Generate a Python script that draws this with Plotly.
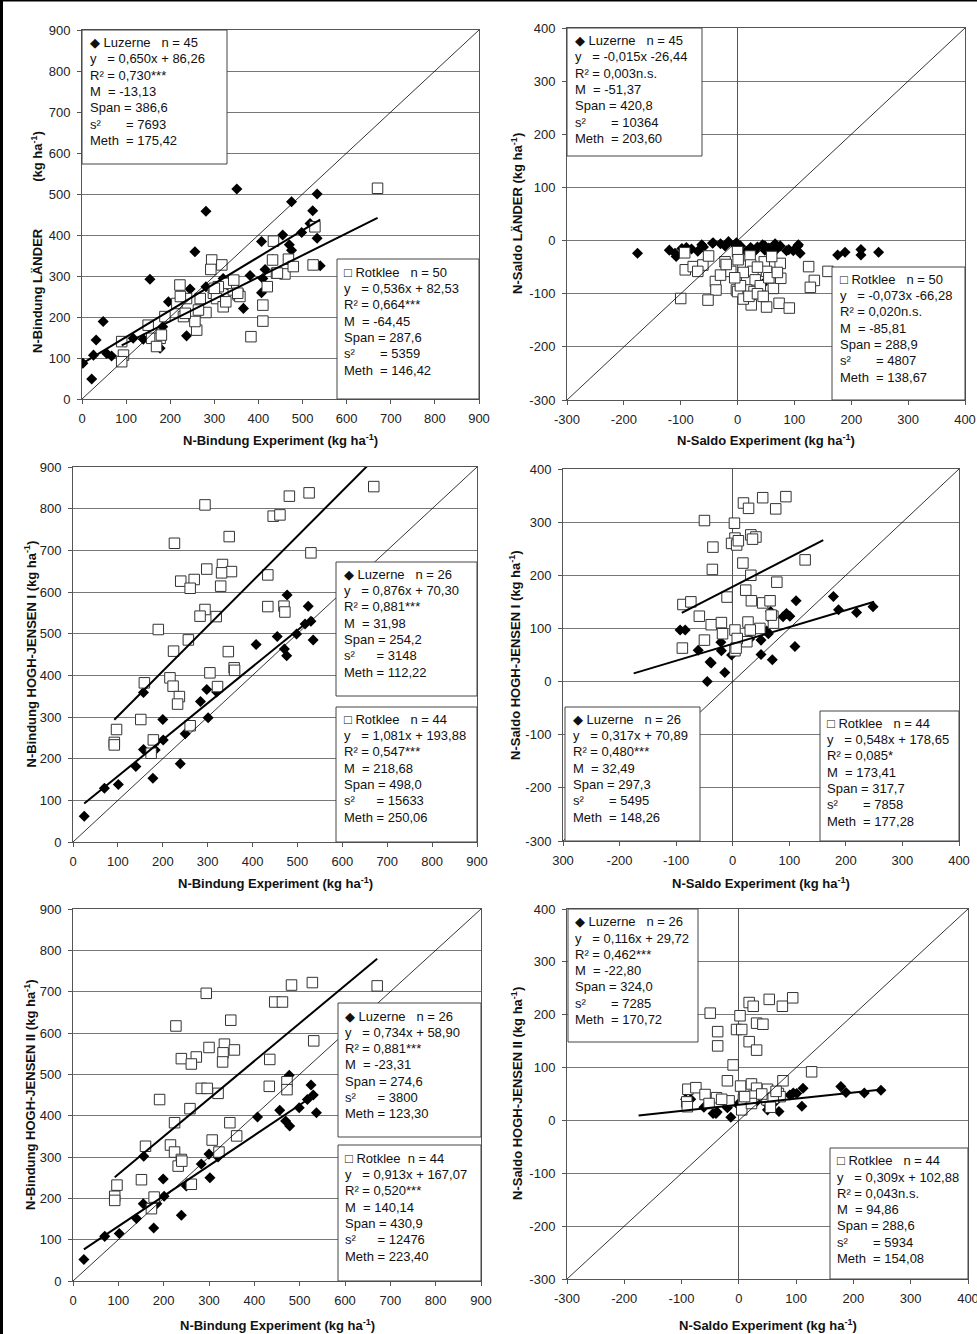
import plotly.graph_objects as go

FONT = "Arial, 'Liberation Sans', Helvetica, sans-serif"
W, H = 977, 1334

# ---------------------------------------------------------------- data
# Panel 1: N-Bindung LÄNDER vs. N-Bindung Experiment
laender_bind_luz_x = [2, 22, 26, 32, 48, 56, 67, 116, 139, 154, 177, 183, 196, 237, 245, 256, 281, 281,
                      320, 351, 366, 381, 407, 407, 415, 410, 455, 475, 470, 475, 498, 517, 523, 533, 533,
                      540, 94, 180, 213, 297, 320, 343, 432, 468, 268]
laender_bind_luz_y = [87, 49, 107, 144, 189, 111, 105, 148, 146, 292, 124, 176, 237, 154, 268, 359, 458, 274,
                      294, 512, 221, 301, 384, 259, 316, 294, 400, 481, 376, 363, 406, 428, 459, 500, 392,
                      325, 105, 150, 235, 260, 240, 268, 340, 341, 245]
laender_bind_rot_x = [94, 90, 90, 150, 158, 177, 169, 188, 215, 222, 230, 237, 260, 256, 268, 281, 294, 292,
                      317, 298, 305, 320, 326, 339, 343, 354, 358, 383, 410, 410, 420, 434, 432, 441, 460,
                      468, 479, 524, 528, 670, 180, 234, 264, 327, 309, 344, 353, 223, 443, 300]
laender_bind_rot_y = [107, 91, 140, 180, 148, 148, 128, 201, 233, 278, 201, 245, 168, 189, 245, 211, 339, 316,
                      327, 258, 245, 225, 237, 280, 266, 254, 250, 152, 229, 190, 274, 385, 339, 307, 305,
                      341, 323, 327, 420, 514, 156, 209, 217, 282, 274, 290, 258, 250, 307, 270]

# Panel 2: N-Saldo LÄNDER vs. N-Saldo Experiment
laender_saldo_luz_x = [-176, -120, -110, -98, -90, -81, -63, -44, -22, -16, -5, 23, 44, 48, 66, 69, 86, 98,
                       107, 110, 44, 176, 189, 217, 217, 248, -108, -89, -43, -2, 25, 48, 66, 90, 106,
                       -60, -30, 5, 15, 35, 55, 75, -70, 30, 60]
laender_saldo_luz_y = [-24, -18, -24, -15, -13, -16, -8, -5, -10, -2, -8, -13, -8, -18, -6, -16, -19, -19,
                       -8, -24, -82, -27, -22, -17, -27, -22, -30, -16, -4, -4, -16, -10, -16, -17, -10,
                       -12, -6, -10, -20, -12, -14, -10, -20, -20, -22]
laender_saldo_rot_x = [-93, -92, -78, -61, -51, -39, -38, -100, -52, -22, -12, 0, 1, -2, 22, 23, 16, 27, 31,
                       16, 29, 24, 47, 51, 63, 75, 76, 51, 73, 91, 125, 135, 128, 159, 0, 10,
                       -70, -30, -20, 5, 10, 35, 40, 55, 60, 70, 20, 35, -5, 45]
laender_saldo_rot_y = [-23, -55, -49, -46, -29, -77, -93, -109, -112, -40, -58, -21, -36, -93, -29, -46, -74,
                       -58, -74, -93, -96, -121, -40, -58, -90, -43, -71, -125, -118, -127, -49, -75, -88,
                       -58, -96, -110, -58, -65, -45, -85, -60, -50, -85, -70, -30, -60, -105, -100, -70,
                       -105]

# Panel 3: N-Bindung HOGH-JENSEN I vs. N-Bindung Experiment
hj1_bind_luz_x = [25, 70, 101, 140, 157, 157, 178, 183, 200, 201, 239, 284, 298, 301, 408, 455, 477, 471,
                  476, 498, 517, 524, 535, 320, 250, 530]
hj1_bind_luz_y = [62, 129, 138, 181, 359, 222, 153, 221, 294, 245, 188, 337, 366, 298, 474, 493, 593, 463,
                  447, 499, 523, 566, 485, 360, 260, 530]
hj1_bind_rot_x = [294, 482, 526, 446, 461, 348, 226, 530, 298, 333, 353, 331, 240, 270, 261, 329, 434, 294,
                  283, 319, 434, 470, 472, 190, 257, 224, 346, 359, 305, 159, 216, 223, 322, 237, 233, 151,
                  261, 97, 92, 92, 179, 174, 670, 360]
hj1_bind_rot_y = [809, 830, 838, 782, 785, 733, 717, 694, 655, 666, 649, 646, 626, 630, 609, 614, 641, 558,
                  542, 541, 565, 566, 552, 510, 485, 458, 457, 418, 406, 382, 394, 374, 373, 349, 331, 294,
                  279, 270, 239, 233, 245, 213, 853, 412]

# Panel 4: N-Saldo HOGH-JENSEN I vs. N-Saldo Experiment
hj1_saldo_luz_x = [-93, -84, -61, -40, -45, -20, -14, -2, -21, 50, 50, 70, 63, 67, 89, 101, 110, 112, 178,
                   187, 219, 248, -38, 30, 60, 95]
hj1_saldo_luz_y = [97, 97, 59, 37, 0, 58, 17, 50, 74, 78, 51, 41, 90, 132, 122, 123, 66, 152, 160, 135,
                   130, 141, 35, 80, 95, 128]
hj1_saldo_rot_x = [19, 28, 53, 76, 94, -50, 3, 4, -2, 7, 32, 41, -35, -36, 18, 32, 78, 128, -10, 23, 33, 53,
                   66, -88, -74, -59, -38, -20, -18, 4, 27, 48, 71, 72, -50, -89, 4, 25, 8, 31, 68, 6, 10, 35]
hj1_saldo_rot_y = [336, 326, 346, 325, 348, 303, 298, 270, 260, 257, 276, 272, 253, 211, 223, 200, 187, 229,
                   159, 172, 152, 148, 152, 145, 150, 123, 107, 111, 90, 97, 112, 100, 123, 110, 78, 63, 58,
                   75, 81, 97, 125, 63, 265, 268]

# Panel 5: N-Bindung HOGH-JENSEN II vs. N-Bindung Experiment
hj2_bind_luz_x = [24, 70, 102, 140, 156, 155, 178, 185, 199, 201, 239, 283, 300, 302, 407, 456, 477, 469,
                  478, 499, 517, 525, 537, 320, 250, 530]
hj2_bind_luz_y = [52, 108, 115, 151, 302, 187, 128, 187, 247, 205, 159, 283, 307, 250, 397, 413, 498, 387,
                  375, 419, 439, 474, 407, 300, 230, 450]
hj2_bind_rot_x = [294, 227, 482, 528, 671, 445, 462, 348, 531, 239, 272, 300, 261, 334, 331, 330, 356, 434,
                  283, 296, 320, 433, 472, 472, 191, 224, 258, 346, 361, 307, 322, 160, 215, 224, 239, 232,
                  151, 261, 97, 92, 92, 179, 173, 240]
hj2_bind_rot_y = [696, 617, 716, 722, 714, 675, 675, 631, 581, 538, 542, 565, 525, 573, 552, 530, 559, 536,
                  466, 466, 454, 471, 482, 463, 439, 383, 417, 383, 351, 341, 312, 326, 329, 312, 294, 278,
                  245, 234, 232, 205, 195, 203, 175, 290]

# Panel 6: N-Saldo HOGH-JENSEN II vs. N-Saldo Experiment
hj2_saldo_luz_x = [-93, -84, -61, -40, -45, -20, -14, -2, -21, 50, 50, 70, 63, 67, 89, 101, 110, 112, 178,
                   187, 219, 248, -38, 30, 60, 95]
hj2_saldo_luz_y = [40, 40, 25, 13, 13, 24, 6, 30, 26, 20, 30, 17, 35, 45, 48, 51, 27, 61, 64, 53, 52, 57,
                   16, 35, 40, 52]
hj2_saldo_rot_x = [18, 25, 53, 76, 94, -50, 2, -4, 5, 31, 42, -37, -37, 18, 31, -10, 127, 77, -20, -89, -75,
                   -59, -39, -17, 3, 22, 31, 50, 69, 72, 8, 25, -91, -90, -52, 5, 22, 49, 60, 10, 40, -30,
                   55, 65]
hj2_saldo_rot_y = [223, 216, 229, 216, 232, 203, 198, 172, 172, 184, 182, 168, 141, 149, 133, 105, 92, 75, 75,
                   59, 62, 49, 43, 37, 65, 69, 61, 59, 51, 45, 39, 46, 35, 26, 32, 20, 32, 39, 42, 45, 50,
                   40, 25, 55]

# regression coefficients (slope, intercept); panels with n.s. fits have no line
laender_bind_fit_luz = [0.650, 86.26]
laender_bind_fit_rot = [0.536, 82.53]
hj1_bind_fit_luz = [0.876, 70.30]
hj1_bind_fit_rot = [1.081, 193.88]
hj1_saldo_fit_luz = [0.317, 70.89]
hj1_saldo_fit_rot = [0.548, 178.65]
hj2_bind_fit_luz = [0.734, 58.90]
hj2_bind_fit_rot = [0.913, 167.07]
hj2_saldo_fit_luz = [0.116, 29.72]
saldo_fit_luz_xspan = [-175, 250]
saldo_fit_rot_xspan = [-90, 160]

# statistics texts
laender_bind_luz_txt = ["◆ Luzerne   n = 45", "y   = 0,650x + 86,26", "R² = 0,730***", "M  = -13,13",
                        "Span = 386,6", "s²       = 7693", "Meth  = 175,42"]
laender_bind_rot_txt = ["□ Rotklee   n = 50", "y   = 0,536x + 82,53", "R² = 0,664***", "M  = -64,45",
                        "Span = 287,6", "s²       = 5359", "Meth  = 146,42"]
laender_saldo_luz_txt = ["◆ Luzerne   n = 45", "y   = -0,015x -26,44", "R² = 0,003n.s.", "M  = -51,37",
                         "Span = 420,8", "s²       = 10364", "Meth  = 203,60"]
laender_saldo_rot_txt = ["□ Rotklee   n = 50", "y   = -0,073x -66,28", "R² = 0,020n.s.", "M  = -85,81",
                         "Span = 288,9", "s²       = 4807", "Meth  = 138,67"]
hj1_bind_luz_txt = ["◆ Luzerne   n = 26", "y   = 0,876x + 70,30", "R² = 0,881***", "M  = 31,98",
                    "Span = 254,2", "s²      = 3148", "Meth = 112,22"]
hj1_bind_rot_txt = ["□ Rotklee   n = 44", "y   = 1,081x + 193,88", "R² = 0,547***", "M  = 218,68",
                    "Span = 498,0", "s²      = 15633", "Meth = 250,06"]
hj1_saldo_luz_txt = ["◆ Luzerne   n = 26", "y   = 0,317x + 70,89", "R² = 0,480***", "M  = 32,49",
                     "Span = 297,3", "s²       = 5495", "Meth  = 148,26"]
hj1_saldo_rot_txt = ["□ Rotklee   n = 44", "y   = 0,548x + 178,65", "R² = 0,085*", "M  = 173,41",
                     "Span = 317,7", "s²       = 7858", "Meth  = 177,28"]
hj2_bind_luz_txt = ["◆ Luzerne   n = 26", "y   = 0,734x + 58,90", "R² = 0,881***", "M  = -23,31",
                    "Span = 274,6", "s²      = 3800", "Meth = 123,30"]
hj2_bind_rot_txt = ["□ Rotklee  n = 44", "y   = 0,913x + 167,07", "R² = 0,520***", "M  = 140,14",
                    "Span = 430,9", "s²      = 12476", "Meth = 223,40"]
hj2_saldo_luz_txt = ["◆ Luzerne   n = 26", "y   = 0,116x + 29,72", "R² = 0,462***", "M  = -22,80",
                     "Span = 324,0", "s²       = 7285", "Meth  = 170,72"]
hj2_saldo_rot_txt = ["□ Rotklee   n = 44", "y   = 0,309x + 102,88", "R² = 0,043n.s.", "M  = 94,86",
                     "Span = 288,6", "s²       = 5934", "Meth  = 154,08"]

bind_ticks = [0, 100, 200, 300, 400, 500, 600, 700, 800, 900]
bind_ticktext = ["0", "100", "200", "300", "400", "500", "600", "700", "800", "900"]
saldo_ticks = [-300, -200, -100, 0, 100, 200, 300, 400]
saldo_ticktext = ["-300", "-200", "-100", "0", "100", "200", "300", "400"]
saldo_ticktext_hj1 = ["300", "-200", "-100", "0", "100", "200", "300", "400"]

UNIT = " (kg ha<sup>-1</sup>)"
xtitle_bind = "N-Bindung Experiment" + UNIT
xtitle_saldo = "N-Saldo Experiment" + UNIT
ytitle_laender_bind = "N-Bindung LÄNDER" + "\u00a0" * 12 + UNIT

# ---------------------------------------------------------------- layout config (pixels)
panels = [
    dict(box=(82, 30, 479, 399), ticks=bind_ticks, tt=bind_ticktext, xtt=bind_ticktext, zero=False,
         luz=(laender_bind_luz_x, laender_bind_luz_y), rot=(laender_bind_rot_x, laender_bind_rot_y),
         fit_luz=laender_bind_fit_luz, fit_rot=laender_bind_fit_rot, span_luz=None, span_rot=None,
         ytitle=ytitle_laender_bind, xtitle=xtitle_bind, yt_x=37, yt_y=242, xt_y=440,
         tl=laender_bind_luz_txt, tr=laender_bind_rot_txt,
         bl=(82, 30, 227, 164, 88, 42.7), br=(337, 259, 479, 399, 341.7, 272.3)),
    dict(box=(567, 28, 965, 400), ticks=saldo_ticks, tt=saldo_ticktext, xtt=saldo_ticktext, zero=True,
         luz=(laender_saldo_luz_x, laender_saldo_luz_y), rot=(laender_saldo_rot_x, laender_saldo_rot_y),
         fit_luz=None, fit_rot=None, span_luz=None, span_rot=None,
         ytitle="N-Saldo LÄNDER" + UNIT, xtitle=xtitle_saldo, yt_x=517, yt_y=None, xt_y=440,
         tl=laender_saldo_luz_txt, tr=laender_saldo_rot_txt,
         bl=(567, 28, 702, 156, 572.7, 40.7), br=(832, 267, 965, 400, 837.7, 279.3)),
    dict(box=(73, 467, 477, 842), ticks=bind_ticks, tt=bind_ticktext, xtt=bind_ticktext, zero=False,
         luz=(hj1_bind_luz_x, hj1_bind_luz_y), rot=(hj1_bind_rot_x, hj1_bind_rot_y),
         fit_luz=hj1_bind_fit_luz, fit_rot=hj1_bind_fit_rot, span_luz=None, span_rot=None,
         ytitle="N-Bindung HOGH-JENSEN I" + UNIT, xtitle=xtitle_bind, yt_x=31, yt_y=None, xt_y=883,
         tl=hj1_bind_luz_txt, tr=hj1_bind_rot_txt,
         bl=(336, 562, 477, 696, 341.7, 574.3), br=(336, 707, 477, 842, 341.7, 719.3)),
    dict(box=(563, 469, 959, 841), ticks=saldo_ticks, tt=saldo_ticktext, xtt=saldo_ticktext_hj1, zero=True,
         luz=(hj1_saldo_luz_x, hj1_saldo_luz_y), rot=(hj1_saldo_rot_x, hj1_saldo_rot_y),
         fit_luz=hj1_saldo_fit_luz, fit_rot=hj1_saldo_fit_rot,
         span_luz=saldo_fit_luz_xspan, span_rot=saldo_fit_rot_xspan,
         ytitle="N-Saldo HOGH-JENSEN I" + UNIT, xtitle=xtitle_saldo, yt_x=515, yt_y=None, xt_y=883,
         tl=hj1_saldo_luz_txt, tr=hj1_saldo_rot_txt,
         bl=(565, 707, 700, 841, 570.7, 719.3), br=(820, 711, 959, 841, 825, 723.3)),
    dict(box=(73, 909, 481, 1281), ticks=bind_ticks, tt=bind_ticktext, xtt=bind_ticktext, zero=False,
         luz=(hj2_bind_luz_x, hj2_bind_luz_y), rot=(hj2_bind_rot_x, hj2_bind_rot_y),
         fit_luz=hj2_bind_fit_luz, fit_rot=hj2_bind_fit_rot, span_luz=None, span_rot=None,
         ytitle="N-Bindung HOGH-JENSEN II" + UNIT, xtitle=xtitle_bind, yt_x=30, yt_y=None, xt_y=1325,
         tl=hj2_bind_luz_txt, tr=hj2_bind_rot_txt,
         bl=(338, 1003, 481, 1137, 343.3, 1016), br=(338, 1145, 481, 1281, 343.3, 1158.3)),
    dict(box=(567, 909, 968, 1279), ticks=saldo_ticks, tt=saldo_ticktext, xtt=saldo_ticktext, zero=True,
         luz=(hj2_saldo_luz_x, hj2_saldo_luz_y), rot=(hj2_saldo_rot_x, hj2_saldo_rot_y),
         fit_luz=hj2_saldo_fit_luz, fit_rot=None, span_luz=saldo_fit_luz_xspan, span_rot=None,
         ytitle="N-Saldo HOGH-JENSEN II" + UNIT, xtitle=xtitle_saldo, yt_x=517, yt_y=None, xt_y=1325,
         tl=hj2_saldo_luz_txt, tr=hj2_saldo_rot_txt,
         bl=(568, 909, 698, 1042, 573.3, 921.7), br=(830, 1148, 968, 1279, 835, 1160.7)),
]

LINE_STEP = 16.3


def fmt_line(s):
    return s.replace(" ", "\u00a0")


fig = go.Figure()
layout = dict(template="none", width=W, height=H, margin=dict(l=0, r=0, t=0, b=0, pad=0, autoexpand=False),
              autosize=False, paper_bgcolor="white", plot_bgcolor="white", showlegend=False,
              font=dict(family=FONT, size=13, color="#111"))
shapes, annotations = [], []

for i, p in enumerate(panels, start=1):
    xa, ya = ("x", "y") if i == 1 else (f"x{i}", f"y{i}")
    l, t, r, b = p["box"]
    ticks = p["ticks"]
    lo, hi = ticks[0], ticks[-1]
    axcommon = dict(range=[lo, hi], tickmode="array", tickvals=ticks, showline=True, mirror=True,
                    linecolor="#555", linewidth=1, ticks="outside", ticklen=4, tickcolor="#555",
                    tickfont=dict(family=FONT, size=13, color="#222"), fixedrange=True, automargin=False,
                    ticklabeloverflow="allow")
    xdict = dict(axcommon, domain=[l / W, r / W], anchor=ya, showgrid=False, ticktext=p["xtt"],
                 zeroline=p["zero"], zerolinecolor="#555", zerolinewidth=1, ticklabelstandoff=3)
    ydict = dict(axcommon, domain=[1 - b / H, 1 - t / H], anchor=xa, showgrid=True, ticktext=p["tt"],
                 gridcolor="#777", gridwidth=1, zeroline=False, ticklabelstandoff=4)
    layout["xaxis" if i == 1 else f"xaxis{i}"] = xdict
    layout["yaxis" if i == 1 else f"yaxis{i}"] = ydict

    # markers
    fig.add_trace(go.Scatter(x=p["luz"][0], y=p["luz"][1], mode="markers", xaxis=xa, yaxis=ya,
                             marker=dict(symbol="diamond", size=8.5, color="black", line=dict(width=0))))
    fig.add_trace(go.Scatter(x=p["rot"][0], y=p["rot"][1], mode="markers", xaxis=xa, yaxis=ya,
                             marker=dict(symbol="square", size=10.5, color="white",
                                         line=dict(color="#333", width=1))))
    # 1:1 line
    fig.add_trace(go.Scatter(x=[lo, hi], y=[lo, hi], mode="lines", xaxis=xa, yaxis=ya,
                             line=dict(color="black", width=0.8)))
    # regression lines
    for fit, data, span in ((p["fit_luz"], p["luz"], p["span_luz"]), (p["fit_rot"], p["rot"], p["span_rot"])):
        if fit is None:
            continue
        x0, x1 = (span if span else (min(data[0]), max(data[0])))
        fig.add_trace(go.Scatter(x=[x0, x1], y=[fit[0] * x0 + fit[1], fit[0] * x1 + fit[1]], mode="lines",
                                 xaxis=xa, yaxis=ya, line=dict(color="black", width=2)))

    # stats boxes
    for txt, bx in ((p["tl"], p["bl"]), (p["tr"], p["br"])):
        bl_, bt_, br_, bb_, tx, ty0 = bx
        shapes.append(dict(type="rect", xref="paper", yref="paper", x0=bl_ / W, x1=br_ / W,
                           y0=1 - bb_ / H, y1=1 - bt_ / H, fillcolor="white",
                           line=dict(color="#444", width=1), layer="above"))
        for k, line in enumerate(txt):
            annotations.append(dict(xref="paper", yref="paper", x=tx / W, y=1 - (ty0 + k * LINE_STEP) / H,
                                    xanchor="left", yanchor="middle", showarrow=False, text=fmt_line(line),
                                    font=dict(family=FONT, size=13, color="#111")))

    # axis titles
    annotations.append(dict(xref="paper", yref="paper", x=(l + r) / 2 / W, y=1 - p["xt_y"] / H,
                            xanchor="center", yanchor="middle", showarrow=False,
                            text="<b>" + p["xtitle"] + "</b>", font=dict(family=FONT, size=13, color="#111")))
    yt_y = p["yt_y"] if p["yt_y"] is not None else (t + b) / 2
    annotations.append(dict(xref="paper", yref="paper", x=p["yt_x"] / W, y=1 - yt_y / H,
                            xanchor="center", yanchor="middle", showarrow=False, textangle=-90,
                            text="<b>" + p["ytitle"] + "</b>", font=dict(family=FONT, size=13, color="#111")))

# outer frame (left/top border of the original figure)
shapes.append(dict(type="rect", xref="paper", yref="paper", x0=0, x1=3 / W, y0=0, y1=1,
                   fillcolor="black", line=dict(width=0), layer="above"))
shapes.append(dict(type="rect", xref="paper", yref="paper", x0=0, x1=1, y0=1 - 1.5 / H, y1=1,
                   fillcolor="black", line=dict(width=0), layer="above"))

layout["shapes"] = shapes
layout["annotations"] = annotations
fig.update_layout(**layout)

# page without body margins / scrollbars so the figure fills the window exactly
PAGE_JS = ("document.documentElement.style.margin='0';document.documentElement.style.overflow='hidden';"
           "document.body.style.margin='0';document.body.style.padding='0';document.body.style.overflow='hidden';")
fig.write_html("out.html", post_script=PAGE_JS, config={"displayModeBar": False, "staticPlot": True})
